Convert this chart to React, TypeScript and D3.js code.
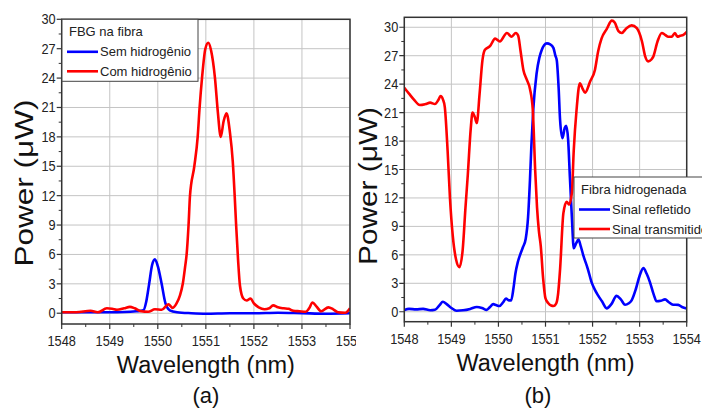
import * as d3 from 'd3';
import React from 'react';

// wavelength (nm), power (uW)
const semHidrogenio: [number, number][] = [
  [1548.0, 0.1], [1548.5, 0.1], [1549.0, 0.1], [1549.3, 0.12], [1549.55, 0.2], [1549.7, 0.3],
  [1549.76, 1.2], [1549.82, 3.0], [1549.88, 4.9], [1549.94, 5.5], [1550.0, 4.8], [1550.08, 3.0],
  [1550.16, 1.0], [1550.25, 0.3], [1550.4, 0.1], [1550.7, 0.0], [1551.0, -0.05], [1551.5, 0.0],
  [1552.0, 0.0], [1552.5, 0.05], [1553.0, 0.0], [1553.5, -0.05], [1554.0, 0.0]
];

const comHidrogenio: [number, number][] = [
  [1548.0, 0.1], [1548.3, 0.1], [1548.6, 0.25], [1548.75, 0.1], [1548.94, 0.5], [1549.05, 0.45],
  [1549.15, 0.35], [1549.3, 0.5], [1549.42, 0.65], [1549.52, 0.5], [1549.65, 0.2], [1549.8, 0.15],
  [1549.94, 0.4], [1550.08, 0.35], [1550.22, 0.9], [1550.31, 0.55], [1550.39, 1.0], [1550.46, 1.8],
  [1550.52, 3.0], [1550.57, 4.8], [1550.6, 6.0], [1550.64, 9.0], [1550.67, 12.0], [1550.76, 15.0],
  [1550.83, 18.0], [1550.87, 21.0], [1550.92, 24.0], [1550.99, 27.0], [1551.05, 27.6], [1551.11, 26.8],
  [1551.19, 24.0], [1551.25, 20.5], [1551.31, 18.0], [1551.37, 19.6], [1551.43, 20.4], [1551.5, 18.5],
  [1551.56, 15.5], [1551.6, 12.0], [1551.63, 9.0], [1551.67, 5.5], [1551.71, 2.8], [1551.78, 1.5],
  [1551.85, 1.3], [1551.93, 1.5], [1552.0, 1.0], [1552.1, 0.6], [1552.22, 0.4], [1552.32, 0.5],
  [1552.4, 0.8], [1552.5, 0.6], [1552.62, 0.5], [1552.72, 0.45], [1552.82, 0.25], [1552.95, 0.2],
  [1553.08, 0.15], [1553.15, 0.5], [1553.22, 1.1], [1553.3, 0.7], [1553.4, 0.2], [1553.55, 0.6],
  [1553.65, 0.4], [1553.75, 0.1], [1553.9, 0.05], [1554.0, 0.5]
];

const sinalRefletido: [number, number][] = [
  [1548.0, 0.18], [1548.1, 0.3], [1548.25, 0.25], [1548.4, 0.3], [1548.55, 0.15], [1548.65, 0.2],
  [1548.75, 0.7], [1548.82, 1.05], [1548.9, 0.8], [1549.0, 0.4], [1549.11, 0.1], [1549.25, 0.15],
  [1549.4, 0.3], [1549.54, 0.5], [1549.65, 0.4], [1549.75, 0.2], [1549.82, 0.5], [1549.89, 0.8],
  [1549.95, 0.7], [1550.02, 0.6], [1550.1, 1.0], [1550.16, 1.4], [1550.22, 1.2], [1550.27, 1.2],
  [1550.32, 2.5], [1550.36, 4.0], [1550.41, 5.2], [1550.46, 6.0], [1550.52, 6.8], [1550.58, 7.7],
  [1550.63, 10.0], [1550.67, 13.9], [1550.7, 17.5], [1550.74, 21.3], [1550.81, 25.1], [1550.87, 26.8],
  [1550.92, 27.6], [1550.97, 28.1], [1551.03, 28.3], [1551.1, 28.2], [1551.17, 27.8], [1551.21, 27.0],
  [1551.24, 26.5], [1551.28, 23.5], [1551.31, 20.2], [1551.36, 18.3], [1551.41, 19.4], [1551.44, 19.6],
  [1551.48, 18.2], [1551.52, 14.0], [1551.56, 10.0], [1551.6, 6.7], [1551.65, 7.2], [1551.7, 7.6],
  [1551.75, 6.9], [1551.8, 6.0], [1551.9, 4.5], [1551.98, 3.1], [1552.05, 2.3], [1552.12, 1.7],
  [1552.2, 1.1], [1552.3, 0.36], [1552.4, 0.8], [1552.51, 1.67], [1552.6, 1.3], [1552.69, 0.74],
  [1552.77, 0.9], [1552.83, 1.2], [1552.92, 2.4], [1553.0, 3.8], [1553.08, 4.6], [1553.15, 4.0],
  [1553.22, 3.1], [1553.3, 1.8], [1553.36, 1.1], [1553.45, 1.15], [1553.54, 1.3], [1553.62, 1.0],
  [1553.71, 0.74], [1553.82, 0.72], [1553.9, 0.5], [1554.0, 0.35]
];

const sinalTransmitido: [number, number][] = [
  [1548.0, 23.6], [1548.1, 23.0], [1548.2, 22.4], [1548.33, 21.8], [1548.45, 21.9], [1548.55, 22.05],
  [1548.65, 21.9], [1548.72, 22.3], [1548.77, 22.75], [1548.82, 22.4], [1548.86, 21.6], [1548.92, 17.0],
  [1548.97, 12.0], [1549.03, 8.0], [1549.1, 5.5], [1549.17, 4.7], [1549.24, 6.5], [1549.3, 11.0],
  [1549.35, 14.5], [1549.41, 19.2], [1549.45, 21.0], [1549.5, 20.5], [1549.54, 19.9], [1549.6, 23.0],
  [1549.66, 26.5], [1549.71, 27.6], [1549.82, 28.0], [1549.93, 28.8], [1550.03, 28.5], [1550.18, 29.4],
  [1550.28, 29.0], [1550.37, 29.4], [1550.42, 29.1], [1550.47, 27.5], [1550.53, 25.5], [1550.6, 24.5],
  [1550.67, 23.5], [1550.73, 21.3], [1550.78, 15.0], [1550.82, 11.0], [1550.86, 8.5], [1550.9, 6.9],
  [1550.95, 3.5], [1551.0, 1.4], [1551.06, 0.9], [1551.12, 0.65], [1551.17, 0.6], [1551.23, 0.9],
  [1551.27, 2.0], [1551.31, 4.5], [1551.38, 10.4], [1551.45, 11.6], [1551.5, 11.3], [1551.56, 12.5],
  [1551.6, 17.0], [1551.66, 21.3], [1551.73, 24.1], [1551.79, 23.5], [1551.84, 23.1], [1551.95, 24.3],
  [1552.05, 25.5], [1552.12, 27.5], [1552.19, 28.8], [1552.3, 29.8], [1552.41, 30.7], [1552.47, 30.5],
  [1552.55, 29.6], [1552.62, 29.4], [1552.72, 29.9], [1552.83, 30.2], [1552.94, 29.9], [1553.05, 28.5],
  [1553.12, 26.9], [1553.18, 26.4], [1553.25, 26.6], [1553.29, 26.9], [1553.38, 28.5], [1553.47, 29.4],
  [1553.54, 29.2], [1553.61, 29.0], [1553.68, 29.0], [1553.75, 29.4], [1553.8, 29.0], [1553.86, 29.1],
  [1553.93, 29.2], [1554.0, 29.5]
];

const xTicks = [1548, 1549, 1550, 1551, 1552, 1553, 1554];
const yTicks = [0, 3, 6, 9, 12, 15, 18, 21, 24, 27, 30];

const FONT = '"Liberation Sans", Arial, sans-serif';

type Series = { name: string; data: [number, number][]; color: string };

type PanelProps = {
  id: string;
  left: number;
  right: number;
  top: number;
  bottom: number;
  yDomain: [number, number];
  series: Series[];
  legendTitle: string;
  legend: { x: number; y: number; w: number; h: number };
  label: string;
  labelX: number;
  yTitle: { x: number; y: number; len: number };
  clipRight: number;
};

function Panel(p: PanelProps) {
  const x = d3.scaleLinear().domain([1548, 1554]).range([p.left, p.right]);
  const y = d3.scaleLinear().domain(p.yDomain).range([p.bottom, p.top]);
  const line = d3.line<[number, number]>()
    .x(d => x(d[0]))
    .y(d => y(d[1]))
    .curve(d3.curveMonotoneX);

  const xMinor = d3.range(1548.5, 1554, 1);
  const yMinor = d3.range(1.5, 30, 3);
  const midX = (p.left + p.right) / 2;

  return (
    <g clipPath={`url(#${p.id}-all)`}>
      <defs>
        <clipPath id={`${p.id}-all`}>
          <rect x={p.left - 70} y={0} width={p.clipRight - p.left + 70} height={414} />
        </clipPath>
        <clipPath id={`${p.id}-plot`}>
          <rect x={p.left} y={p.top} width={p.right - p.left} height={p.bottom - p.top} />
        </clipPath>
      </defs>

      {/* grid */}
      {xTicks.map(t => (
        <line key={'gx' + t} x1={x(t)} x2={x(t)} y1={p.top} y2={p.bottom} stroke="#c4c4c4" strokeWidth={1} />
      ))}
      {yTicks.map(t => (
        <line key={'gy' + t} x1={p.left} x2={p.right} y1={y(t)} y2={y(t)} stroke="#c4c4c4" strokeWidth={1} />
      ))}

      {/* curves */}
      <g clipPath={`url(#${p.id}-plot)`}>
        {p.series.map(s => (
          <path key={s.name} d={line(s.data) || ''} fill="none" stroke={s.color} strokeWidth={2.6} strokeLinejoin="round" />
        ))}
      </g>

      {/* frame */}
      <rect x={p.left} y={p.top} width={p.right - p.left} height={p.bottom - p.top} fill="none" stroke="#333" strokeWidth={1.5} />

      {/* x ticks */}
      {xTicks.map(t => (
        <g key={'xt' + t}>
          <line x1={x(t)} x2={x(t)} y1={p.bottom} y2={p.bottom + 5} stroke="#333" strokeWidth={1.2} />
          <text transform={`translate(${x(t)},${p.bottom + 22}) scale(0.88,1)`} textAnchor="middle"
            fontSize={14.5} fontFamily={FONT} fill="#222">{t}</text>
        </g>
      ))}
      {xMinor.map(t => (
        <line key={'xm' + t} x1={x(t)} x2={x(t)} y1={p.bottom} y2={p.bottom + 3} stroke="#333" strokeWidth={1} />
      ))}

      {/* y ticks */}
      {yTicks.map(t => (
        <g key={'yt' + t}>
          <line x1={p.left - 5} x2={p.left} y1={y(t)} y2={y(t)} stroke="#333" strokeWidth={1.2} />
          <text transform={`translate(${p.left - 6},${y(t) + 5}) scale(0.88,1)`} textAnchor="end"
            fontSize={14.5} fontFamily={FONT} fill="#222">{t}</text>
        </g>
      ))}
      {yMinor.map(t => (
        <line key={'ym' + t} x1={p.left - 3} x2={p.left} y1={y(t)} y2={y(t)} stroke="#333" strokeWidth={1} />
      ))}

      {/* titles */}
      <text x={midX} y={p.bottom + 49} textAnchor="middle" fontSize={23} fontFamily={FONT} fill="#111"
        textLength={178} lengthAdjust="spacingAndGlyphs">Wavelength (nm)</text>
      <text transform={`translate(${p.yTitle.x},${p.yTitle.y}) rotate(-90)`} textAnchor="middle"
        fontSize={25} fontFamily={FONT} fill="#111" textLength={p.yTitle.len} lengthAdjust="spacingAndGlyphs">
        Power (μW)
      </text>
      <text x={p.labelX} y={403} textAnchor="middle" fontSize={22} fontFamily={FONT} fill="#111">{p.label}</text>

      {/* legend */}
      <g>
        <rect x={p.legend.x} y={p.legend.y} width={p.legend.w} height={p.legend.h} fill="#fff" stroke="#444" strokeWidth={1} />
        <text x={p.legend.x + 7} y={p.legend.y + 17} fontSize={13} fontFamily={FONT} fill="#222">{p.legendTitle}</text>
        {p.series.map((s, i) => {
          const cy = p.legend.y + 32.5 + i * 19.5;
          return (
            <g key={'lg' + s.name}>
              <line x1={p.legend.x + 5} x2={p.legend.x + 36} y1={cy} y2={cy} stroke={s.color} strokeWidth={2.6} />
              <text x={p.legend.x + 38} y={cy + 4.5} fontSize={13} fontFamily={FONT} fill="#222">{s.name}</text>
            </g>
          );
        })}
      </g>
    </g>
  );
}

export default function App() {
  return (
    <svg width={702} height={414} style={{ position: 'absolute', left: 0, top: 0, background: '#fff' }}>
      <Panel
        id="pa"
        left={61.7}
        right={350}
        top={19.3}
        bottom={324}
        yDomain={[-1.1, 30]}
        series={[
          { name: 'Sem hidrogênio', data: semHidrogenio, color: '#0000ff' },
          { name: 'Com hidrogênio', data: comHidrogenio, color: '#ff0000' }
        ]}
        legendTitle="FBG na fibra"
        legend={{ x: 62, y: 19.3, w: 136, h: 62 }}
        label="(a)"
        labelX={206}
        yTitle={{ x: 33, y: 183, len: 167 }}
        clipRight={356}
      />
      <Panel
        id="pb"
        left={404.3}
        right={686.7}
        top={17.3}
        bottom={321.7}
        yDomain={[-1.05, 31.05]}
        series={[
          { name: 'Sinal refletido', data: sinalRefletido, color: '#0000ff' },
          { name: 'Sinal transmitido', data: sinalTransmitido, color: '#ff0000' }
        ]}
        legendTitle="Fibra hidrogenada"
        legend={{ x: 574, y: 177, w: 150, h: 61 }}
        label="(b)"
        labelX={538}
        yTitle={{ x: 377, y: 186, len: 158 }}
        clipRight={702}
      />
    </svg>
  );
}
